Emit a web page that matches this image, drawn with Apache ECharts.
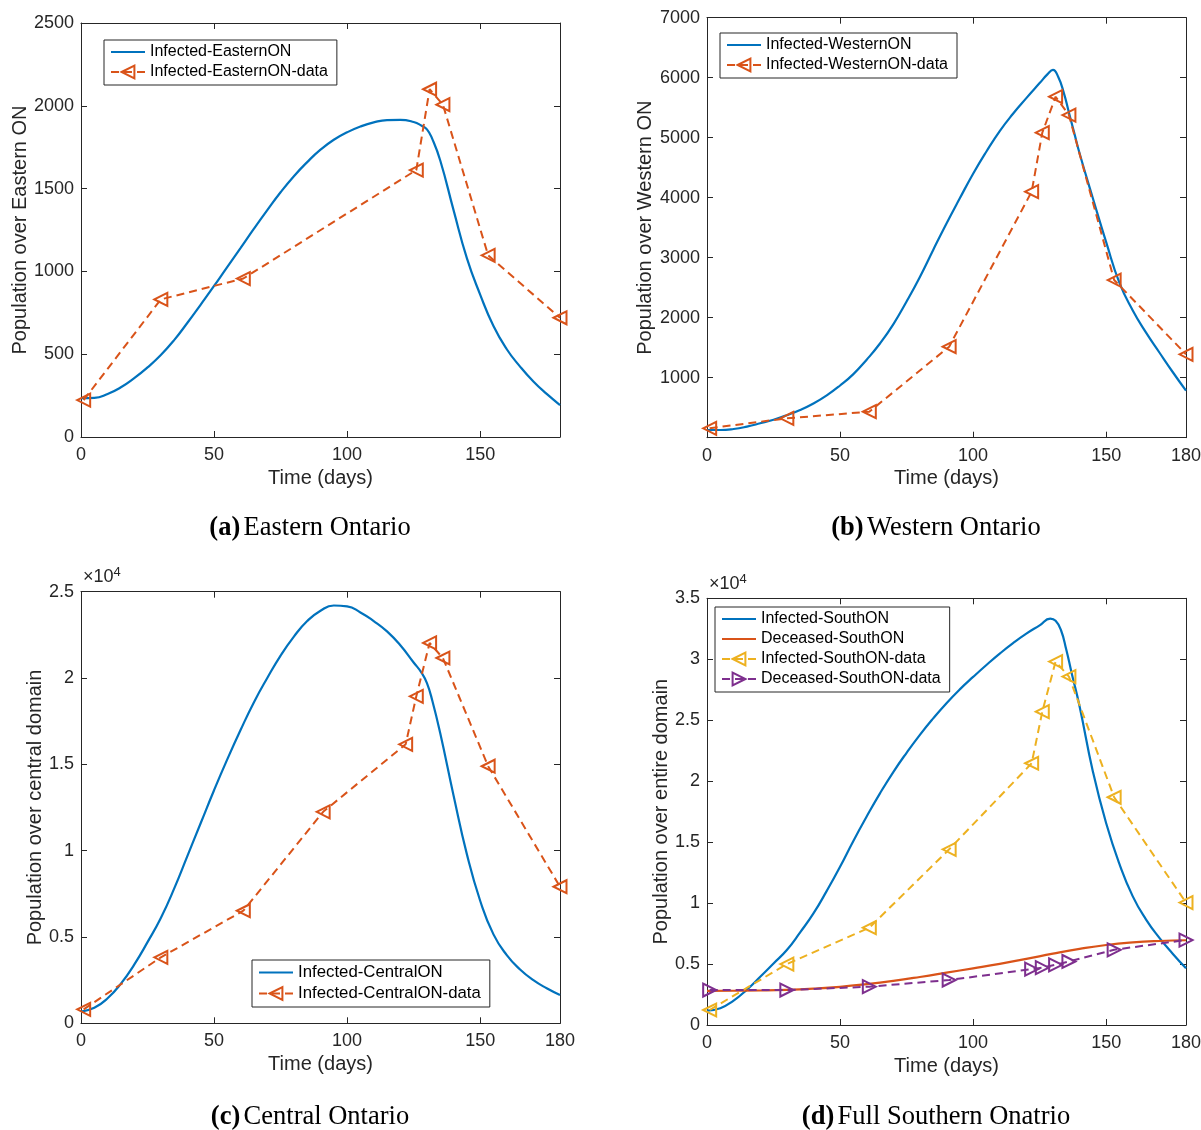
<!DOCTYPE html>
<html>
<head>
<meta charset="utf-8">
<script src="https://cdn.jsdelivr.net/npm/echarts@6/dist/echarts.min.js"></script>
<style>
html,body{margin:0;padding:0;background:#fff;}
#chart{width:1201px;height:1130px;}
</style>
</head>
<body>
<div id="chart"></div>
<script>
// ---------------- DATA ----------------
const xTicks = [0, 50, 100, 150, 180];

// (a) Eastern Ontario
const eastModelDays = [0,5,10,15,20,25,30,35,40,45,50,55,60,65,70,75,80,85,90,95,100,105,110,115,120,125,128,130,132,135,140,145,150,155,160,165,170,175,180];
const eastModelVals = [234,236,260,300,355,420,495,585,690,800,912,1028,1142,1258,1370,1478,1575,1660,1735,1795,1840,1875,1900,1914,1915,1902,1880,1858,1800,1670,1370,1080,860,670,530,425,335,260,193];
const eastDataDays = [1,30,61,126,131,136,153,180];
const eastDataVals = [223,831,957,1612,2100,2007,1097,720];

// (b) Western Ontario
const westModelDays = [0,5,10,15,20,25,30,35,40,45,50,55,60,65,70,75,80,85,90,95,100,105,110,115,120,125,128,130,132,134,136,138,140,145,150,155,160,165,170,175,180];
const westModelVals = [128,128,145,185,240,300,375,462,570,705,870,1060,1300,1570,1890,2270,2680,3130,3570,3990,4400,4770,5110,5400,5660,5910,6060,6130,6010,5760,5420,5080,4740,3990,3260,2580,2120,1750,1420,1095,783];
const dataDays = [1,30,61,91,122,126,131,136,153,180];
const westDataVals = [157,323,433,1517,4100,5083,5683,5378,2628,1390];

// (c) Central Ontario
const centModelDays = [0,5,10,15,20,25,30,35,40,45,50,55,60,65,70,75,80,85,90,95,100,105,110,115,120,125,128,130,132,135,140,145,150,155,160,165,170,175,180];
const centModelVals = [680,900,1450,2300,3400,4700,6100,7800,9700,11600,13500,15300,17000,18600,20000,21300,22400,23300,23900,24200,24150,23800,23300,22700,21900,20900,20300,19700,18700,16800,13200,9800,7100,5150,3950,3120,2500,2030,1640];
const centDataVals = [810,3820,6520,12250,16160,18940,22030,21160,14890,7910];

// (d) Full Southern Ontario
const southInfDays = [0,5,10,15,20,25,30,35,40,45,50,55,60,65,70,75,80,85,90,95,100,105,110,115,120,125,129,131,133,135,137,140,145,150,155,160,165,170,175,180];
const southInfVals = [1180,1380,2000,2900,3960,5050,6150,7600,9150,11000,12980,15100,17100,19000,20750,22330,23800,25150,26400,27530,28550,29530,30460,31320,32100,32780,33330,33150,32400,30800,28900,26150,20800,16550,13200,10550,8650,7150,5850,4650];
const southDecDays = [0,10,20,30,40,50,60,70,80,90,100,110,120,130,140,150,160,170,180];
const southDecVals = [2800,2810,2830,2880,2980,3130,3350,3620,3940,4290,4650,5020,5420,5850,6240,6560,6770,6890,6950];
const southInfDataVals = [1230,5000,7980,14410,21470,25700,29810,28580,18680,10040];
const southDecDataVals = [2870,2870,3140,3690,4580,4700,4940,5210,6170,6970];

// ---------------- STYLE ----------------
const BLUE = '#0072BD', ORANGE = '#D95319', YELLOW = '#EDB120', PURPLE = '#7E2F8E';
const AX = '#262626';
const SANS = 'Liberation Sans, Arial, Helvetica, sans-serif';
const SERIF = 'Liberation Serif, Times New Roman, serif';

const grids = [
  {left: 81, top: 23, width: 479, height: 414},
  {left: 707, top: 17.7, width: 479, height: 420},
  {left: 81, top: 591.7, width: 479, height: 431.6},
  {left: 707, top: 598.3, width: 479, height: 426.7}
];
const yCfg = [
  {max: 2500, interval: 500, name: 'Population over Eastern ON', gap: 51, fmt: v => String(v)},
  {max: 7000, interval: 1000, name: 'Population over Western ON', gap: 52, fmt: v => v === 0 ? '' : String(v)},
  {max: 25000, interval: 5000, name: 'Population over central domain', gap: 36, fmt: v => String(v / 1e4)},
  {max: 35000, interval: 5000, name: 'Population over entire domain', gap: 35, fmt: v => String(v / 1e4)}
];

const xAxes = [], yAxes = [];
grids.forEach((g, gi) => {
  const base = {
    type: 'value', gridIndex: gi, min: 0, max: 180, interval: 50,
    axisLine: {show: true, onZero: false, lineStyle: {color: AX, width: 1}},
    axisTick: {show: true, inside: true, length: 6, lineStyle: {color: AX}},
    splitLine: {show: false}
  };
  xAxes.push(Object.assign({}, base, {
    position: 'bottom',
    name: 'Time (days)', nameLocation: 'middle', nameGap: 31,
    nameTextStyle: {fontSize: 20, color: AX, fontFamily: SANS},
    axisLabel: {show: true, margin: 9, fontSize: 18, color: AX, fontFamily: SANS,
      formatter: v => (gi === 0 && v === 180) ? '' : String(v)}
  }));
  xAxes.push(Object.assign({}, base, {position: 'top', axisLabel: {show: false}}));
  const yc = yCfg[gi];
  const ybase = {
    type: 'value', gridIndex: gi, min: 0, max: yc.max, interval: yc.interval,
    axisLine: {show: true, onZero: false, lineStyle: {color: AX, width: 1}},
    axisTick: {show: true, inside: true, length: 6, lineStyle: {color: AX}},
    splitLine: {show: false}
  };
  yAxes.push(Object.assign({}, ybase, {
    position: 'left',
    name: yc.name, nameLocation: 'middle', nameGap: yc.gap,
    nameTextStyle: {fontSize: 20, color: AX, fontFamily: SANS},
    axisLabel: {show: true, margin: 7, fontSize: 18, color: AX, fontFamily: SANS, formatter: yc.fmt}
  }));
  yAxes.push(Object.assign({}, ybase, {position: 'right', axisLabel: {show: false}}));
});

function pairs(xs, ys) { return xs.map((x, i) => [x, ys[i]]); }
function modelLine(name, xs, ys, color, gi) {
  return {
    name, type: 'line', xAxisIndex: 2 * gi, yAxisIndex: 2 * gi,
    data: pairs(xs, ys), symbol: 'none', showSymbol: false, smooth: 0.5,
    lineStyle: {color, width: 2.2}, itemStyle: {color}, z: 3,
    emphasis: {disabled: true}
  };
}
function dataLine(name, xs, ys, color, gi, rot) {
  return {
    name, type: 'line', xAxisIndex: 2 * gi, yAxisIndex: 2 * gi,
    data: pairs(xs, ys), symbol: 'triangle', symbolSize: 13, symbolRotate: rot,
    showSymbol: true, showAllSymbol: true,
    lineStyle: {color, width: 2, type: [8, 5]},
    itemStyle: {color: 'rgba(255,255,255,0)', borderColor: color, borderWidth: 2},
    z: 4, emphasis: {disabled: true}
  };
}

const series = [
  modelLine('Infected-EasternON', eastModelDays, eastModelVals, BLUE, 0),
  dataLine('Infected-EasternON-data', eastDataDays, eastDataVals, ORANGE, 0, 90),
  modelLine('Infected-WesternON', westModelDays, westModelVals, BLUE, 1),
  dataLine('Infected-WesternON-data', dataDays, westDataVals, ORANGE, 1, 90),
  modelLine('Infected-CentralON', centModelDays, centModelVals, BLUE, 2),
  dataLine('Infected-CentralON-data', dataDays, centDataVals, ORANGE, 2, 90),
  modelLine('Infected-SouthON', southInfDays, southInfVals, BLUE, 3),
  modelLine('Deceased-SouthON', southDecDays, southDecVals, ORANGE, 3),
  dataLine('Infected-SouthON-data', dataDays, southInfDataVals, YELLOW, 3, 90),
  dataLine('Deceased-SouthON-data', dataDays, southDecDataVals, PURPLE, 3, -90)
];

const noMarker = {color: 'rgba(0,0,0,0)', borderWidth: 0, borderColor: 'rgba(0,0,0,0)'};
function legend(items, left, top, fs) {
  return {
    data: items.map(it => it.line ? {name: it.name, itemStyle: noMarker} : {name: it.name}),
    left, top, orient: 'vertical',
    backgroundColor: '#fff', borderColor: AX, borderWidth: 1, borderRadius: 0,
    padding: [4, 9, 5, 6], itemWidth: 34, itemHeight: 16, itemGap: 4,
    textStyle: {fontSize: fs || 16, color: '#000', fontFamily: SANS},
    selectedMode: false
  };
}

const chart = echarts.init(document.getElementById('chart'), null, {renderer: 'canvas'});
const supRich = {a: {fontSize: 18, fontFamily: SANS, fill: AX}, s: {fontSize: 13, fontFamily: SANS, fill: AX, verticalAlign: 'top', padding: [0, 0, 9, 0]}};
const capRich = {b: {fontSize: 26.5, fontWeight: 'bold', fontFamily: SERIF, fill: '#000'}, n: {fontSize: 26.5, fontFamily: SERIF, fill: '#000'}};
chart.setOption({
  animation: false,
  backgroundColor: '#fff',
  textStyle: {fontFamily: SANS},
  grid: grids.map(g => Object.assign({containLabel: false, outerBoundsMode: 'none'}, g)),
  xAxis: xAxes,
  yAxis: yAxes,
  legend: [
    legend([{name: 'Infected-EasternON', line: true}, {name: 'Infected-EasternON-data'}], 104, 40),
    legend([{name: 'Infected-WesternON', line: true}, {name: 'Infected-WesternON-data'}], 720, 33),
    legend([{name: 'Infected-CentralON', line: true}, {name: 'Infected-CentralON-data'}], 252, 960, 16.8),
    legend([{name: 'Infected-SouthON', line: true}, {name: 'Deceased-SouthON', line: true},
            {name: 'Infected-SouthON-data'}, {name: 'Deceased-SouthON-data'}], 715, 607)
  ],
  series,
  graphic: [
    {type: 'text', left: 83, top: 566, style: {text: '{a|×10}{s|4}', rich: supRich}},
    {type: 'text', left: 709, top: 573, style: {text: '{a|×10}{s|4}', rich: supRich}},
    {type: 'text', x: 310, y: 528, style: {text: '{b|(a)} {n|Eastern Ontario}', align: 'center', verticalAlign: 'middle', rich: capRich}},
    {type: 'text', x: 936, y: 528, style: {text: '{b|(b)} {n|Western Ontario}', align: 'center', verticalAlign: 'middle', rich: capRich}},
    {type: 'text', x: 310, y: 1117, style: {text: '{b|(c)} {n|Central Ontario}', align: 'center', verticalAlign: 'middle', rich: capRich}},
    {type: 'text', x: 936, y: 1117, style: {text: '{b|(d)} {n|Full Southern Onatrio}', align: 'center', verticalAlign: 'middle', rich: capRich}}
  ]
});
</script>
</body>
</html>
